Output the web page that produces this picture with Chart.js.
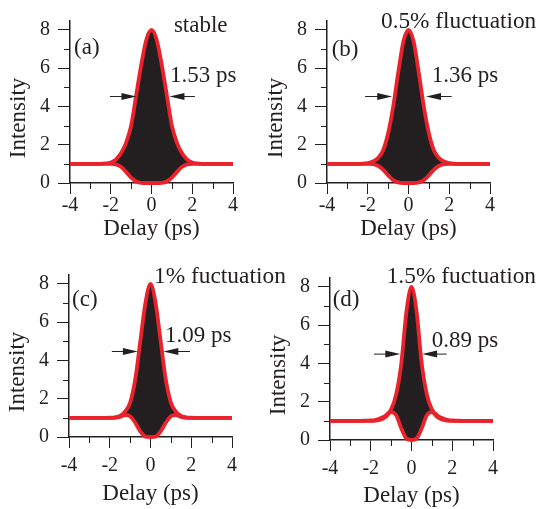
<!DOCTYPE html>
<html>
<head>
<meta charset="utf-8">
<script src="https://cdn.jsdelivr.net/npm/chart.js@4.4.1/dist/chart.umd.min.js"></script>
<style>
  body { margin: 0; background: #fff; }
  #wrap { position: relative; width: 536px; height: 509px; }
  canvas { position: absolute; }
</style>
</head>
<body>
<div id="wrap">
  <canvas id="pa" width="268" height="250" style="left:0;top:0"></canvas>
  <canvas id="pb" width="268" height="250" style="left:268px;top:0"></canvas>
  <canvas id="pc" width="300" height="259" style="left:0;top:250px"></canvas>
  <canvas id="pd" width="268" height="259" style="left:268px;top:250px"></canvas>
</div>
<script>
// delay axis (ps), shared by all four panels
const delay = [-4, -3, -2.5, -2.25, -2, -1.75, -1.5, -1.25, -1, -0.75, -0.5, -0.25, 0,
               0.25, 0.5, 0.75, 1, 1.25, 1.5, 1.75, 2, 2.25, 2.5, 3, 4];

// (a) stable
const upperA = [1, 1, 1, 1.02, 1.07, 1.22, 1.55, 2.1, 3.0, 4.6, 6.2, 7.5, 8, 7.5, 6.2, 4.6, 3.0, 2.1, 1.55, 1.22, 1.07, 1.02, 1, 1, 1];
const lowerA = [1, 1, 1, 1, 1, 0.97, 0.85, 0.58, 0.28, 0.08, 0.01, 0, 0, 0, 0.01, 0.08, 0.28, 0.58, 0.85, 0.97, 1, 1, 1, 1, 1];
// (b) 0.5% fluctuation
const upperB = [1, 1, 1, 1.01, 1.04, 1.12, 1.3, 1.7, 2.6, 4.0, 5.8, 7.4, 8, 7.4, 5.8, 4.0, 2.6, 1.7, 1.3, 1.12, 1.04, 1.01, 1, 1, 1];
const lowerB = [1, 1, 1, 1, 1, 0.99, 0.9, 0.7, 0.4, 0.15, 0.03, 0, 0, 0, 0.03, 0.15, 0.4, 0.7, 0.9, 0.99, 1, 1, 1, 1, 1];
// (c) 1% fluctuation
const upperC = [1, 1, 1, 1, 1.01, 1.03, 1.1, 1.32, 1.8, 3.0, 5.0, 7.0, 8, 7.0, 5.0, 3.0, 1.8, 1.32, 1.1, 1.03, 1.01, 1, 1, 1, 1];
const lowerC = [1, 1, 1, 1, 1, 1.0, 1.05, 1.15, 1.08, 0.75, 0.3, 0.02, 0, 0.02, 0.3, 0.75, 1.08, 1.15, 1.05, 1.0, 1, 1, 1, 1, 1];
// (d) 1.5% fluctuation
const upperD = [1, 1, 1, 1.01, 1.02, 1.06, 1.15, 1.3, 1.6, 2.4, 4.0, 6.7, 8, 6.7, 4.0, 2.4, 1.6, 1.3, 1.15, 1.06, 1.02, 1.01, 1, 1, 1];
const lowerD = [1, 1, 1, 1, 1, 1.01, 1.07, 1.22, 1.46, 1.3, 0.6, 0.08, 0, 0.08, 0.6, 1.3, 1.46, 1.22, 1.07, 1.01, 1, 1, 1, 1, 1];

const xTicks = [-4, -2, 0, 2, 4];
const xMinor = [-3, -1, 1, 3];
const yTicks = [0, 2, 4, 6, 8];
const yMinor = [1, 3, 5, 7];

const RED = '#e8232b';
const INK = '#231f20';
const SERIF = '"Liberation Serif", "Times New Roman", serif';

function arrow(ctx, tail, tip, yy) {
  const d = Math.sign(tip - tail);
  ctx.beginPath();
  ctx.moveTo(tail, yy);
  ctx.lineTo(tip - d * 12, yy);
  ctx.stroke();
  ctx.beginPath();
  ctx.moveTo(tip, yy);
  ctx.lineTo(tip - d * 15, yy - 3.5);
  ctx.lineTo(tip - d * 15, yy + 3.5);
  ctx.closePath();
  ctx.fill();
}

// minor ticks, axis titles, labels and FWHM arrows
const annot = {
  id: 'annot',
  afterDraw(chart, args, o) {
    const {ctx, chartArea: ca} = chart;
    const x = chart.scales.x, y = chart.scales.y;
    ctx.save();
    ctx.strokeStyle = INK;
    ctx.fillStyle = INK;
    ctx.lineWidth = 1;
    ctx.beginPath();
    xMinor.forEach(v => {
      const px = Math.round(x.getPixelForValue(v)) + 0.5;
      ctx.moveTo(px, ca.bottom); ctx.lineTo(px, ca.bottom + 6);
    });
    yMinor.forEach(v => {
      const py = Math.round(y.getPixelForValue(v)) + 0.5;
      ctx.moveTo(ca.left, py); ctx.lineTo(ca.left - 6, py);
    });
    ctx.stroke();

    ctx.font = '23px ' + SERIF;
    ctx.textAlign = 'center';
    ctx.textBaseline = 'alphabetic';
    ctx.fillText('Delay (ps)', (ca.left + ca.right) / 2, ca.bottom + o.titleDrop);
    ctx.save();
    ctx.translate(ca.left - 51, y.getPixelForValue(3.4));
    ctx.rotate(-Math.PI / 2);
    ctx.textBaseline = 'middle';
    ctx.fillText('Intensity', 0, 0);
    ctx.restore();

    ctx.textAlign = 'left';
    ctx.textBaseline = 'middle';
    ctx.fillText(o.tag, x.getPixelForValue(o.tagAt[0]), y.getPixelForValue(o.tagAt[1]));
    ctx.textBaseline = 'alphabetic';
    ctx.font = o.headSize + 'px ' + SERIF;
    ctx.fillText(o.head, x.getPixelForValue(o.headAt[0]), y.getPixelForValue(o.headAt[1]));
    ctx.font = '23px ' + SERIF;
    ctx.fillText(o.fwhm, x.getPixelForValue(o.fwhmAt[0]), y.getPixelForValue(o.fwhmAt[1]));

    ctx.lineWidth = 1;
    const ay = y.getPixelForValue(o.arrowY);
    arrow(ctx, x.getPixelForValue(o.arrowL[0]), x.getPixelForValue(o.arrowL[1]), ay);
    arrow(ctx, x.getPixelForValue(o.arrowR[1]), x.getPixelForValue(o.arrowR[0]), ay);
    ctx.restore();
  }
};

function pts(ys) {
  return delay.map((d, i) => ({x: d, y: ys[i]}));
}

function panel(id, upper, lower, box, ann) {
  new Chart(document.getElementById(id), {
    type: 'line',
    data: {
      datasets: [{
        data: pts(upper),
        borderColor: RED,
        borderWidth: 3.8,
        backgroundColor: INK,
        fill: '+1',
        pointRadius: 0,
        cubicInterpolationMode: 'monotone',
        clip: false
      }, {
        data: pts(lower),
        borderColor: RED,
        borderWidth: 3.8,
        fill: false,
        pointRadius: 0,
        cubicInterpolationMode: 'monotone',
        clip: false
      }]
    },
    options: {
      responsive: false,
      animation: false,
      events: [],
      layout: {
        autoPadding: false,
        padding: {left: 0, top: box.top, right: box.right, bottom: 0}
      },
      scales: {
        x: {
          type: 'linear',
          min: -4, max: 4,
          afterFit: s => { s.height = box.xh; },
          afterBuildTicks: s => { s.ticks = xTicks.map(v => ({value: v})); },
          grid: {drawOnChartArea: false, drawTicks: true, tickLength: 11, color: INK, lineWidth: 1},
          border: {color: INK, width: 1.5},
          ticks: {color: INK, padding: box.xpad, maxRotation: 0, font: {family: SERIF, size: 20}}
        },
        y: {
          min: 0, max: 8.5,
          afterFit: s => { s.width = box.yw; },
          afterBuildTicks: s => { s.ticks = yTicks.map(v => ({value: v})); },
          grid: {drawOnChartArea: false, drawTicks: true, tickLength: 12, color: INK, lineWidth: 1},
          border: {color: INK, width: 1.5},
          ticks: {color: INK, padding: 8, font: {family: SERIF, size: 20}}
        }
      },
      plugins: {
        legend: {display: false},
        tooltip: {enabled: false},
        filler: {drawTime: 'beforeDatasetsDraw'},
        annot: ann
      }
    },
    plugins: [annot]
  });
}

panel('pa', upperA, lowerA,
  {top: 20.4, right: 35, xh: 67, yw: 70, xpad: 0},
  {tag: '(a)', tagAt: [-3.8, 7.07], head: 'stable', headSize: 23, headAt: [1.1, 7.9],
   fwhm: '1.53 ps', fwhmAt: [0.91, 5.29], arrowY: 4.52, arrowL: [-2.04, -0.74], arrowR: [0.88, 2.13], titleDrop: 52});

panel('pb', upperB, lowerB,
  {top: 20.4, right: 46, xh: 67, yw: 59, xpad: 0},
  {tag: '(b)', tagAt: [-3.77, 6.96], head: '0.5% fluctuation', headSize: 23.3, headAt: [-1.35, 8.12],
   fwhm: '1.36 ps', fwhmAt: [1.14, 5.3], arrowY: 4.52, arrowL: [-2.13, -0.8], arrowR: [0.86, 2.12], titleDrop: 52});

panel('pc', upperC, lowerC,
  {top: 24.4, right: 68, xh: 72, yw: 69, xpad: 6},
  {tag: '(c)', tagAt: [-3.85, 7.17], head: '1% fuctuation', headSize: 23.4, headAt: [0.17, 8.06],
   fwhm: '1.09 ps', fwhmAt: [0.71, 4.99], arrowY: 4.47, arrowL: [-1.9, -0.62], arrowR: [0.63, 1.94], titleDrop: 63});

panel('pd', upperD, lowerD,
  {top: 27.4, right: 43, xh: 69, yw: 62, xpad: 6},
  {tag: '(d)', tagAt: [-3.87, 7.33], head: '1.5% fuctuation', headSize: 23.4, headAt: [-1.22, 8.2],
   fwhm: '0.89 ps', fwhmAt: [0.99, 4.88], arrowY: 4.49, arrowL: [-1.84, -0.55], arrowR: [0.52, 1.73], titleDrop: 62});
</script>
</body>
</html>
